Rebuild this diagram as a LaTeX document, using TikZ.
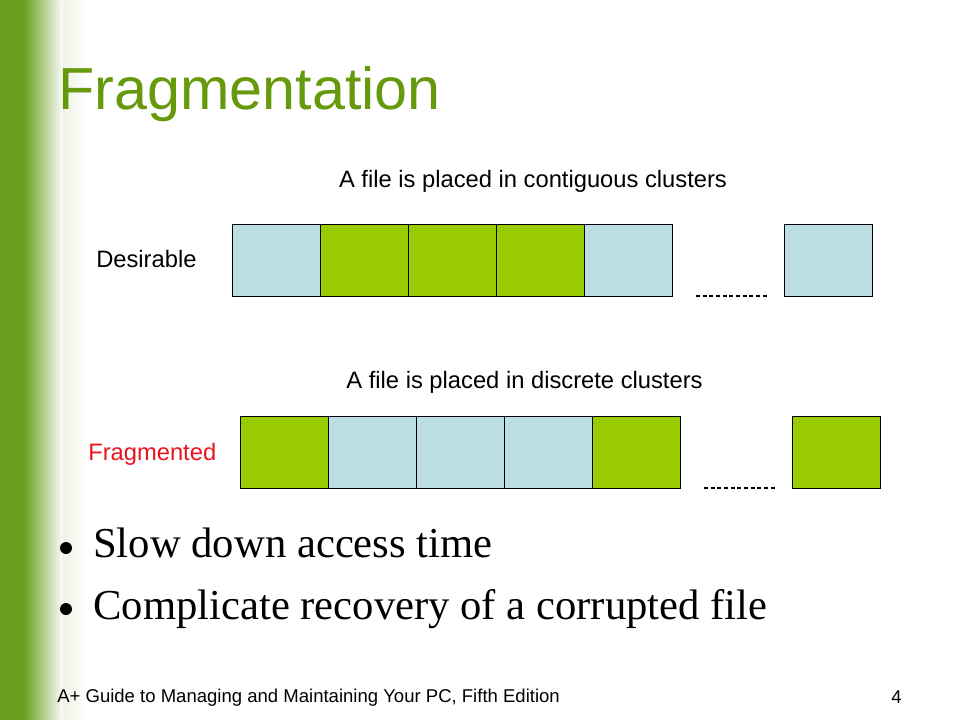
\documentclass[tikz,border=0pt]{standalone}
\usepackage{fontspec}
\setmainfont{Liberation Sans}
\newfontfamily\timesfont{Liberation Serif}
\definecolor{barGreen}{HTML}{6A9E1F}
\definecolor{titleGreen}{HTML}{669A0C}
\definecolor{boxGreen}{HTML}{99CC00}
\definecolor{boxBlue}{HTML}{BBDFE3}
\definecolor{fragRed}{HTML}{E8141E}
\begin{document}
\begin{tikzpicture}[x=0.75pt,y=-0.75pt,
  cluster/.style={draw=black,line width=0.9pt,rectangle,inner sep=0pt,
    minimum width=66pt,minimum height=54pt,anchor=north west},
  gbox/.style={cluster,fill=boxGreen},
  bbox/.style={cluster,fill=boxBlue},
  lbl/.style={inner sep=0pt,font=\fontsize{17.8}{20}\selectfont},
  btxt/.style={inner sep=0pt,anchor=base west,font=\timesfont\fontsize{32}{38}\selectfont},
  bdot/.style={circle,fill=black,inner sep=0pt,minimum size=9pt},
  dots/.style={line width=0.8pt,dash pattern=on 3pt off 2pt}]
\useasboundingbox (0,0) rectangle (960,720);
\fill[white] (0,0) rectangle (960,720);
% left gradient bar
\fill[barGreen] (0,0) rectangle (24,720);
\shade[left color=barGreen,right color=white] (23.5,0) rectangle (64,720);
\shade[left color=barGreen!12!white,right color=white] (63.5,0) rectangle (88,720);
% title
\node[inner sep=0pt,anchor=base west,text=titleGreen,font=\fontsize{44.5}{50}\selectfont] (title) at (58,110) {Fragmentation};
% row 1
\node[lbl,anchor=base] (cap1) at (533,188) {A file is placed in contiguous clusters};
\node[lbl,anchor=base west] (des) at (96,268) {Desirable};
\node[bbox] (d1) at (232,224) {};
\node[gbox] (d2) at (320,224) {};
\node[gbox] (d3) at (408,224) {};
\node[gbox] (d4) at (496,224) {};
\node[bbox] (d5) at (584,224) {};
\node[bbox] (d6) at (784,224) {};
\coordinate (da) at (696,296);
\coordinate (db) at (768,296);
\draw[dots] (da) -- (db);
% row 2
\node[lbl,anchor=base] (cap2) at (524.5,388) {A file is placed in discrete clusters};
\node[lbl,anchor=base west,text=fragRed] (frag) at (88,460) {Fragmented};
\node[gbox] (f1) at (240,416) {};
\node[bbox] (f2) at (328,416) {};
\node[bbox] (f3) at (416,416) {};
\node[bbox] (f4) at (504,416) {};
\node[gbox] (f5) at (592,416) {};
\node[gbox] (f6) at (792,416) {};
\coordinate (fa) at (704,488);
\coordinate (fb) at (776,488);
\draw[dots] (fa) -- (fb);
% bullets
\node[bdot] (b1) at (66,548) {};
\node[btxt] (t1) at (93,557) {Slow down access time};
\node[bdot] (b2) at (66,609) {};
\node[btxt] (t2) at (93,619) {Complicate recovery of a corrupted file};
% footer
\node[inner sep=0pt,anchor=base west,font=\fontsize{13.9}{16}\selectfont] (foot) at (57,702) {A+ Guide to Managing and Maintaining Your PC, Fifth Edition};
\node[inner sep=0pt,anchor=base east,font=\fontsize{13.9}{16}\selectfont] (page) at (902,703) {4};
\end{tikzpicture}
\end{document}
